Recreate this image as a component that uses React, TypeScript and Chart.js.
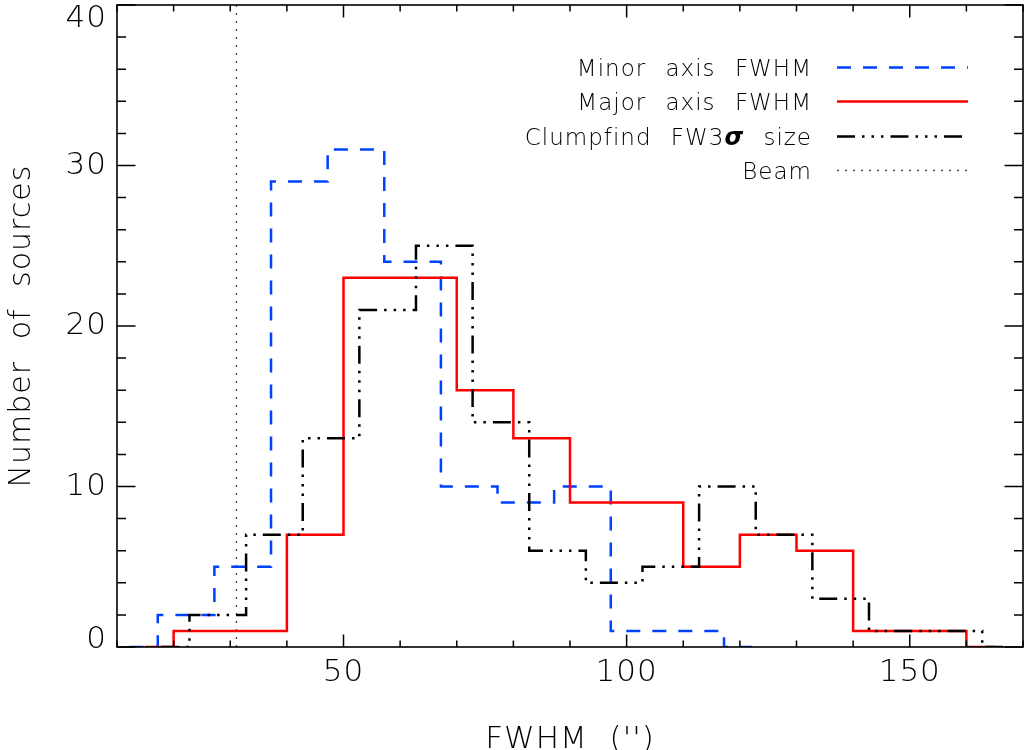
import React, { useEffect, useRef } from 'react';
import { Chart, registerables } from 'chart.js';

Chart.register(...registerables);

// ---- Data ----
const minorCenters = [12.2, 22.2, 32.2, 42.2, 52.2, 62.2, 72.2, 82.2, 92.2, 102.2, 112.2, 122.2];
const minorCounts = [0, 2, 5, 29, 31, 24, 10, 9, 10, 1, 1, 0];

const majorCenters = [15, 25, 35, 45, 55, 65, 75, 85, 95, 105, 115, 125, 135, 145, 155, 165];
const majorCounts = [0, 1, 1, 7, 23, 23, 16, 13, 9, 9, 5, 7, 6, 1, 1, 0];

const clumpCenters = [17.8, 27.8, 37.8, 47.8, 57.8, 67.8, 77.8, 87.8, 97.8, 107.8, 117.8, 127.8, 137.8, 147.8, 157.8, 167.8];
const clumpCounts = [0, 2, 7, 13, 21, 25, 14, 6, 4, 5, 10, 7, 3, 1, 1, 0];

const beamFWHM = 31.1;
const beamRange = [0, 40];

const seriesLabels = ['Minor axis FWHM', 'Major axis FWHM', 'Clumpfind FW3\u03C3 size', 'Beam'];

const xMin = 10;
const xMax = 170;
const yMin = 0;
const yMax = 40;

const FONT = 'DejaVu Sans';
const WEIGHT = 200;

const toPoints = (xs: number[], ys: number[]) => xs.map((x, i) => ({ x, y: ys[i] }));

const textStylePlugin = {
  id: 'textStyle',
  beforeDraw(chart: any) {
    const ctx = chart.ctx as any;
    ctx.letterSpacing = '1px';
    ctx.wordSpacing = '11px';
  },
};

const framePlugin = {
  id: 'idlFrame',
  afterDatasetsDraw(chart: any) {
    const { ctx, chartArea } = chart;
    const { left, right, top, bottom } = chartArea;
    const xs = chart.scales.x;
    const ys = chart.scales.y;
    ctx.save();
    ctx.strokeStyle = '#000';
    ctx.lineWidth = 1.6;
    ctx.setLineDash([]);
    ctx.strokeRect(left, top, right - left, bottom - top);
    ctx.lineWidth = 1.5;
    ctx.beginPath();
    xs.ticks.forEach((t: any) => {
      const px = xs.getPixelForValue(t.value);
      const len = t.value % 50 === 0 ? 12.5 : 6.5;
      ctx.moveTo(px, bottom);
      ctx.lineTo(px, bottom - len);
      ctx.moveTo(px, top);
      ctx.lineTo(px, top + len);
    });
    ys.ticks.forEach((t: any) => {
      const py = ys.getPixelForValue(t.value);
      const len = t.value % 10 === 0 ? 18.5 : 9;
      ctx.moveTo(left, py);
      ctx.lineTo(left + len, py);
      ctx.moveTo(right, py);
      ctx.lineTo(right - len, py);
    });
    ctx.stroke();

    // y tick labels (IDL style: kept inside the picture)
    ctx.fillStyle = '#000';
    ctx.font = `${WEIGHT} 31px "${FONT}"`;
    ctx.textAlign = 'right';
    ctx.textBaseline = 'middle';
    ys.ticks.forEach((t: any) => {
      if (t.value % 10 !== 0) return;
      let py = ys.getPixelForValue(t.value);
      py = Math.max(py, top + 14);
      py = Math.min(py, bottom - 7);
      ctx.fillText(String(t.value), 107, py);
    });
    ctx.restore();
  },
};

const legendPlugin = {
  id: 'idlLegend',
  afterDraw(chart: any) {
    const { ctx } = chart;
    ctx.save();
    const normalFont = `${WEIGHT} 23px "${FONT}"`;
    const sigmaFont = `italic 600 24px "${FONT}"`;
    ctx.textAlign = 'left';
    ctx.textBaseline = 'alphabetic';
    ctx.fillStyle = '#000';
    const textRight = 812;
    const lineStart = 837;
    const lineEnd = 968;
    const baseline0 = 76;
    const step = 34.3;
    chart.data.datasets.forEach((ds: any, i: number) => {
      const by = baseline0 + i * step;
      // split label so that the Greek sigma is drawn italic, like the reference
      const label: string = ds.label;
      const parts: { t: string; f: string }[] = [];
      const idx = label.indexOf('\u03C3');
      if (idx >= 0) {
        parts.push({ t: label.slice(0, idx), f: normalFont });
        parts.push({ t: '\u03C3', f: sigmaFont });
        parts.push({ t: label.slice(idx + 1), f: normalFont });
      } else {
        parts.push({ t: label, f: normalFont });
      }
      let total = 0;
      parts.forEach((p) => {
        ctx.font = p.f;
        total += ctx.measureText(p.t).width;
      });
      let x = textRight - total;
      parts.forEach((p) => {
        ctx.font = p.f;
        ctx.fillText(p.t, x, by);
        x += ctx.measureText(p.t).width;
      });
      const ly = Math.round(by - 9) + 0.5;
      ctx.beginPath();
      ctx.strokeStyle = ds.borderColor;
      ctx.lineWidth = ds.borderWidth;
      ctx.setLineDash(ds.borderDash || []);
      ctx.lineDashOffset = 0;
      ctx.moveTo(lineStart, ly);
      ctx.lineTo(lineEnd, ly);
      ctx.stroke();
    });
    ctx.restore();
  },
};

export default function App() {
  const ref = useRef<HTMLCanvasElement>(null);

  useEffect(() => {
    document.documentElement.style.overflow = 'hidden';
    document.body.style.margin = '0';
    document.body.style.overflow = 'hidden';
    const canvas = ref.current;
    if (!canvas) return;
    const chart = new Chart(canvas, {
      type: 'line',
      data: {
        datasets: [
          {
            label: seriesLabels[0],
            data: toPoints(minorCenters, minorCounts),
            borderColor: 'rgb(0,64,255)',
            borderWidth: 2.5,
            borderDash: [14, 12],
            stepped: 'middle',
            pointRadius: 0,
            fill: false,
            order: 3,
          },
          {
            label: seriesLabels[1],
            data: toPoints(majorCenters, majorCounts),
            borderColor: 'rgb(255,0,0)',
            borderWidth: 2.5,
            borderDash: [],
            stepped: 'middle',
            pointRadius: 0,
            fill: false,
            order: 2,
          },
          {
            label: seriesLabels[2],
            data: toPoints(clumpCenters, clumpCounts),
            borderColor: '#000',
            borderWidth: 2.5,
            borderDash: [18, 7, 2.5, 7, 2.5, 7, 2.5, 7],
            stepped: 'middle',
            pointRadius: 0,
            fill: false,
            order: 1,
          },
          {
            label: seriesLabels[3],
            data: beamRange.map((y) => ({ x: beamFWHM, y })),
            borderColor: '#444',
            borderWidth: 1.3,
            borderDash: [2, 6],
            pointRadius: 0,
            fill: false,
            order: 4,
          },
        ],
      },
      options: {
        animation: false,
        responsive: false,
        devicePixelRatio: 1,
        layout: { padding: { top: 5, right: 3, left: 0, bottom: 0 } },
        plugins: {
          legend: { display: false },
          tooltip: { enabled: false },
        },
        elements: { line: { tension: 0, borderCapStyle: 'butt', borderJoinStyle: 'miter' } },
        scales: {
          x: {
            type: 'linear',
            min: xMin,
            max: xMax,
            afterFit: (s: any) => {
              s.height = 103;
              s.paddingLeft = 0;
              s.paddingRight = 0;
            },
            grid: { display: false, drawTicks: false },
            border: { display: false },
            ticks: {
              stepSize: 10,
              autoSkip: false,
              maxRotation: 0,
              minRotation: 0,
              padding: 7,
              color: '#000',
              font: { family: FONT, size: 31, weight: WEIGHT },
              callback: (v: any) => (Number(v) % 50 === 0 ? String(v) : ''),
            },
            title: {
              display: true,
              text: "FWHM ('')",
              color: '#000',
              font: { family: FONT, size: 31, lineHeight: 1, weight: WEIGHT },
              padding: { top: 0, bottom: -5 },
            },
          },
          y: {
            type: 'linear',
            min: yMin,
            max: yMax,
            afterFit: (s: any) => {
              s.width = 117;
              s.paddingTop = 0;
              s.paddingBottom = 0;
            },
            grid: { display: false, drawTicks: false },
            border: { display: false },
            ticks: {
              stepSize: 2,
              display: false,
            },
            title: {
              display: true,
              text: 'Number of sources',
              color: '#000',
              font: { family: FONT, size: 30, lineHeight: 1, weight: WEIGHT },
              padding: { top: 7, bottom: 0 },
            },
          },
        },
      },
      plugins: [textStylePlugin, framePlugin, legendPlugin],
    } as any);
    return () => chart.destroy();
  }, []);

  return (
    <div style={{ position: 'fixed', left: 0, top: 0, width: 1026, height: 750, overflow: 'hidden', background: '#fff' }}>
      <canvas ref={ref} width={1026} height={750} style={{ display: 'block', width: 1026, height: 750 }} />
    </div>
  );
}
